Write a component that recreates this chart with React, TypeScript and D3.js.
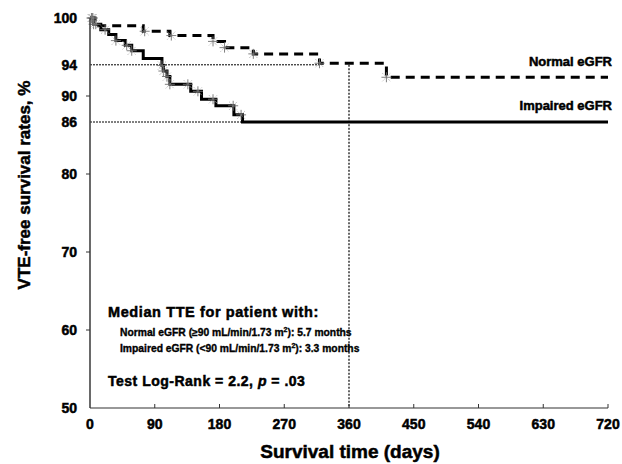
import React from "react";
import * as d3 from "d3";

// axis ticks
const xTicks = [0, 90, 180, 270, 360, 450, 540, 630, 720];
const yTicks = [50, 60, 70, 80, 86, 90, 94, 100];
const yTickMarks = [60, 70, 80, 90];

// Kaplan-Meier steps
const normalDays = [0, 7, 74, 111, 171, 187, 227, 319, 412];
const normalSurv = [100, 99.0, 98.3, 97.75, 97.0, 96.2, 95.4, 94.2, 92.4];
const normalCensored = [2, 4, 76, 113, 171, 187, 227, 319, 412];

const impairedDays = [0, 5, 15, 26, 36, 49, 58, 74, 100, 102, 107, 111, 140, 155, 175, 200, 212];
const impairedSurv = [100, 99.2, 98.5, 97.9, 97.1, 96.5, 95.8, 94.8, 93.9, 93.2, 92.5, 91.5, 90.6, 89.5, 88.5, 87.1, 86.0];
const impairedCensored = [3, 5, 8, 21, 36, 51, 58, 100, 102, 107, 111, 136, 150, 171, 199, 210];

const followUpEnd = 720;
const medianDay = 360;
const refNormal = { value: 94, until: 319 };
const refImpaired = { value: 86, until: 212 };

const FONT = "'Liberation Sans', Arial, Helvetica, sans-serif";

const width = 622;
const height = 464;

const survAt = (days: number[], surv: number[], t: number) => {
  let v = surv[0];
  days.forEach((d, i) => {
    if (d <= t) v = surv[i];
  });
  return v;
};

const Censor = ({ x, y }: { x: number; y: number }) => (
  <g transform={`translate(${x},${y})`}>
    <path d="M-4,-4L4,4M-4,4L4,-4" stroke="#b0b0b0" strokeWidth={1} strokeDasharray="1,1" />
    <path d="M0,-5V5M-5,0H5" stroke="#707070" strokeWidth={0.9} />
  </g>
);

const App = () => {
  const x = d3.scaleLinear().domain([0, 720]).range([90, 608]);
  // the printed axis is slightly uneven around 86
  const y = d3.scaleLinear().domain([50, 80, 86, 90, 100]).range([408, 174, 122, 96, 18]);

  const line = d3
    .line<[number, number]>()
    .x((d) => x(d[0]))
    .y((d) => y(d[1]))
    .curve(d3.curveStepAfter);

  const pts = (days: number[], surv: number[]) => {
    const p: [number, number][] = days.map((d, i) => [d, surv[i]]);
    p.push([followUpEnd, surv[surv.length - 1]]);
    return p;
  };

  return (
    <svg
      width={width}
      height={height}
      style={{ position: "absolute", left: 0, top: 0, background: "#fff" }}
      fontFamily={FONT}
      fontWeight="bold"
    >
      {/* reference lines */}
      <line x1={x(0)} x2={x(refNormal.until)} y1={y(refNormal.value)} y2={y(refNormal.value)} stroke="#000" strokeWidth={1} strokeDasharray="2,1" />
      <line x1={x(0)} x2={x(refImpaired.until)} y1={y(refImpaired.value)} y2={y(refImpaired.value)} stroke="#000" strokeWidth={1} strokeDasharray="2,1" />
      <line x1={x(medianDay)} x2={x(medianDay)} y1={y(refNormal.value)} y2={y(50)} stroke="#000" strokeWidth={1.2} strokeDasharray="2,1.5" />

      {/* curves */}
      <path d={line(pts(impairedDays, impairedSurv)) ?? ""} fill="none" stroke="#000" strokeWidth={3} />
      <path d={line(pts(normalDays, normalSurv)) ?? ""} fill="none" stroke="#000" strokeWidth={3} strokeDasharray="9,6" />

      {impairedCensored.map((t, i) => (
        <Censor key={"i" + i} x={x(t)} y={y(survAt(impairedDays, impairedSurv, t))} />
      ))}
      {normalCensored.map((t, i) => (
        <Censor key={"n" + i} x={x(t)} y={y(survAt(normalDays, normalSurv, t))} />
      ))}

      {/* axes */}
      <line x1={x(0)} x2={x(0)} y1={y(100)} y2={y(50)} stroke="#444" strokeWidth={1.6} />
      <line x1={x(0)} x2={x(720)} y1={y(50)} y2={y(50)} stroke="#333" strokeWidth={1.2} />
      {yTickMarks.map((t) => (
        <line key={t} x1={x(0) - 4} x2={x(0)} y1={y(t)} y2={y(t)} stroke="#333" strokeWidth={1} />
      ))}
      {xTicks.slice(1).map((t) => (
        <line key={t} x1={x(t)} x2={x(t)} y1={y(50)} y2={y(50) - 4} stroke="#333" strokeWidth={1} />
      ))}
      <g stroke="#000" strokeWidth={0.5}>
        {yTicks.map((t) => (
          <text key={t} x={77} y={y(t)} dy="0.35em" textAnchor="end" fontSize={14}>
            {t}
          </text>
        ))}
        {xTicks.map((t) => (
          <text key={t} x={x(t)} y={429} textAnchor="middle" fontSize={14}>
            {t}
          </text>
        ))}

        <text x={350} y={458} textAnchor="middle" fontSize={19}>
          Survival time (days)
        </text>
        <text transform="translate(30,185) rotate(-90)" textAnchor="middle" fontSize={17}>
          VTE-free survival rates, %
        </text>

        {/* curve labels */}
        <text x={612} y={66} textAnchor="end" fontSize={13}>
          Normal eGFR
        </text>
        <text x={612} y={110} textAnchor="end" fontSize={13}>
          Impaired eGFR
        </text>

        {/* annotation */}
        <text x={108} y={317} fontSize={14.5} letterSpacing={0.6}>
          Median TTE for patient with:
        </text>
        <text x={120} y={336} fontSize={10.3} strokeWidth={0.35}>
          Normal eGFR (≥90 mL/min/1.73 m<tspan fontSize={7} dy={-4}>2</tspan>
          <tspan dy={4}>): 5.7 months</tspan>
        </text>
        <text x={120} y={352} fontSize={10.3} strokeWidth={0.35}>
          Impaired eGFR (&lt;90 mL/min/1.73 m<tspan fontSize={7} dy={-4}>2</tspan>
          <tspan dy={4}>): 3.3 months</tspan>
        </text>
        <text x={108} y={386} fontSize={14} letterSpacing={0.5}>
          Test Log-Rank = 2.2,{"  "}
          <tspan fontStyle="italic">p</tspan> = .03
        </text>
      </g>
    </svg>
  );
};

export default App;
